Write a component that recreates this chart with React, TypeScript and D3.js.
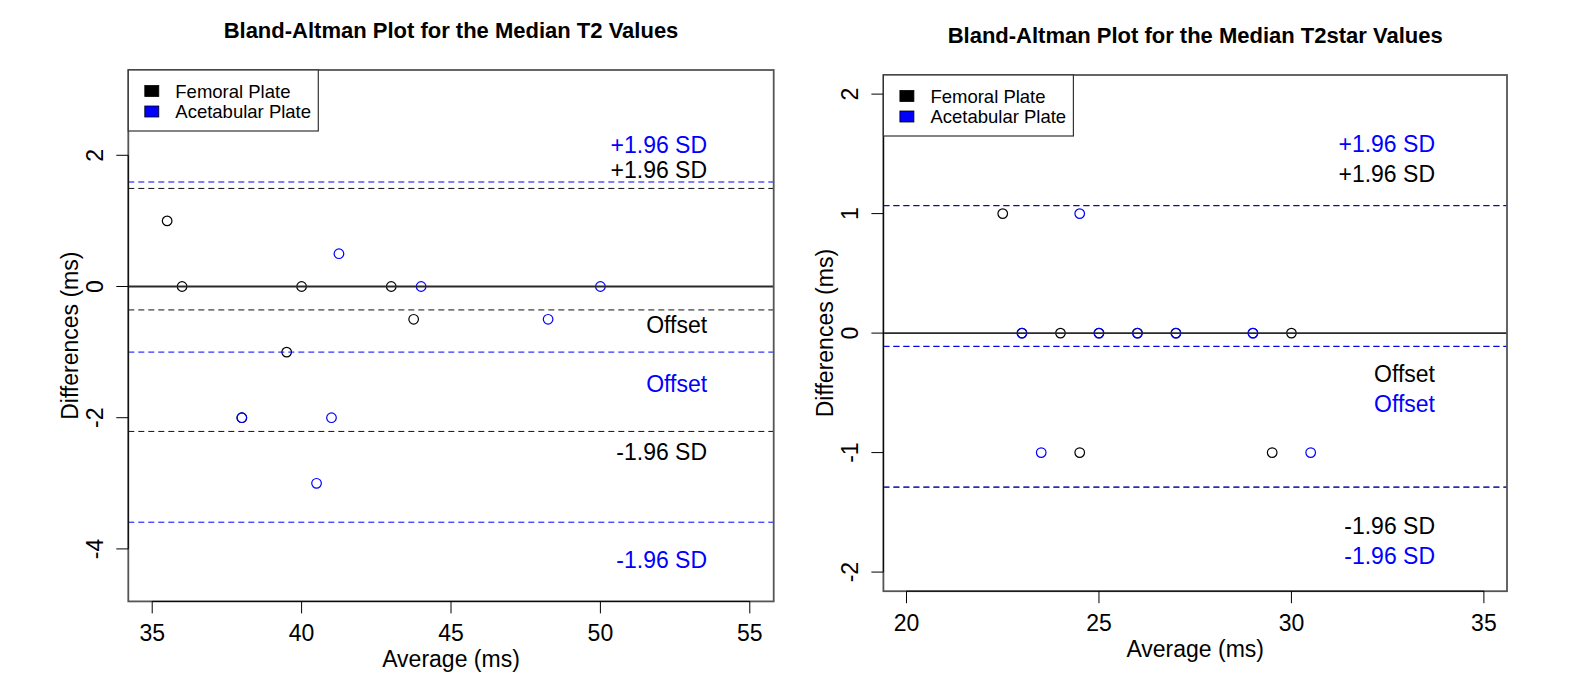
import React from "react";
import * as d3 from "d3";

// ---------- data ----------
const legendLabels = ["Femoral Plate", "Acetabular Plate"];
const seriesColors = ["#000000", "#0000FF"];

// Median T2 (left panel)
const t2FemoralAvg = [35.5, 36, 40, 43, 43.75, 39.5, 38];
const t2FemoralDiff = [1, 0, 0, 0, -0.5, -1, -2];
const t2AcetAvg = [41.25, 44, 50, 48.25, 38, 41, 40.5];
const t2AcetDiff = [0.5, 0, 0, -0.5, -2, -2, -3];
const t2XLim = [35, 55];
const t2YLim = [-4.5, 3];
const t2XTicks = [35, 40, 45, 50, 55];
const t2YTicks = [-4, -2, 0, 2];
const t2LabelX = 53.57;
// label anchors (data units): blue upper, black upper, black offset, blue offset, black lower, blue lower
const t2LabelY = [2.16, 1.78, -0.58, -1.48, -2.53, -4.17];

// Median T2star (right panel)
const t2sFemoralAvg = [22.5, 24, 30, 24.5, 29.5, 23, 25, 26, 27];
const t2sFemoralDiff = [1, 0, 0, -1, -1, 0, 0, 0, 0];
const t2sAcetAvg = [24.5, 23, 25, 26, 27, 29, 29, 23.5, 30.5];
const t2sAcetDiff = [1, 0, 0, 0, 0, 0, 0, -1, -1];
const t2sXLim = [20, 35];
const t2sYLim = [-2, 2];
const t2sXTicks = [20, 25, 30, 35];
const t2sYTicks = [-2, -1, 0, 1, 2];
const t2sLabelX = 33.73;
const t2sLabelY = [1.585, 1.334, -0.344, -0.594, -1.615, -1.866];

const titles = [
  "Bland-Altman Plot for the Median T2 Values",
  "Bland-Altman Plot for the Median T2star Values",
];
const xLabel = "Average (ms)";
const yLabel = "Differences (ms)";

// ---------- style ----------
const W = 1591;
const H = 687;
const FONT = "'Liberation Sans', Arial, Helvetica, sans-serif";
const AX_FS = 23;
const LEG_FS = 18.5;
const TITLE_FS = 22;

type Box = { x0: number; x1: number; y0: number; y1: number };

function ext(lim: number[]) {
  const r = lim[1] - lim[0];
  return [lim[0] - 0.04 * r, lim[1] + 0.04 * r];
}

function Panel(props: {
  box: Box;
  title: string;
  titleDy: number;
  xLim: number[];
  yLim: number[];
  xTicks: number[];
  yTicks: number[];
  avgs: number[][];
  diffs: number[][];
  labelX: number;
  labelY: number[];
}) {
  const { box, title, titleDy, xLim, yLim, xTicks, yTicks, avgs, diffs, labelX, labelY } = props;
  const x = d3.scaleLinear().domain(ext(xLim)).range([box.x0, box.x1]);
  const y = d3.scaleLinear().domain(ext(yLim)).range([box.y1, box.y0]);
  const stats = diffs.map((d) => {
    const m = d3.mean(d) as number;
    const s = d3.deviation(d) as number;
    return { m, up: m + 1.96 * s, lo: m - 1.96 * s };
  });
  const cx = (box.x0 + box.x1) / 2;
  const cy = (box.y0 + box.y1) / 2;
  const tick = 12;
  const lineStyles = [
    { stroke: "#111111", width: 1 },
    { stroke: "#0000FF", width: 1 },
  ];
  const labelDefs = [
    { text: "+1.96 SD", s: 1 },
    { text: "+1.96 SD", s: 0 },
    { text: "Offset", s: 0 },
    { text: "Offset", s: 1 },
    { text: "-1.96 SD", s: 0 },
    { text: "-1.96 SD", s: 1 },
  ];
  const legW = 190;
  const legH = 61;
  return (
    <g fontFamily={FONT}>
      {/* title */}
      <text x={cx} y={box.y0 - titleDy} fontSize={TITLE_FS} fontWeight="bold" textAnchor="middle" dominantBaseline="central">
        {title}
      </text>
      {/* points */}
      {avgs.map((arr, si) =>
        arr.map((a, i) => (
          <circle key={`p${si}-${i}`} cx={x(a)} cy={y(diffs[si][i])} r={4.8} fill="none" stroke={seriesColors[si]} strokeWidth={1.2} />
        ))
      )}
      {/* zero line */}
      <line x1={box.x0} x2={box.x1} y1={y(0)} y2={y(0)} stroke="#2a2a2a" strokeWidth={1.9} />
      {/* stat lines */}
      {stats.map((st, si) =>
        [st.up, st.m, st.lo].map((v, k) => (
          <line key={`l${si}-${k}`} x1={box.x0} x2={box.x1} y1={y(v)} y2={y(v)} stroke={lineStyles[si].stroke} strokeWidth={lineStyles[si].width} strokeDasharray="6,4" />
        ))
      )}
      {/* annotations */}
      {labelDefs.map((l, i) => (
        <text key={`a${i}`} x={x(labelX)} y={y(labelY[i])} fontSize={AX_FS} textAnchor="end" dominantBaseline="central" fill={seriesColors[l.s]}>
          {l.text}
        </text>
      ))}
      {/* box */}
      <rect x={box.x0} y={box.y0} width={box.x1 - box.x0} height={box.y1 - box.y0} fill="none" stroke="#555" strokeWidth={1.8} />
      {/* x axis */}
      <line x1={x(xTicks[0])} x2={x(xTicks[xTicks.length - 1])} y1={box.y1} y2={box.y1} stroke="#000" strokeWidth={1} />
      {xTicks.map((t) => (
        <g key={`xt${t}`}>
          <line x1={x(t)} x2={x(t)} y1={box.y1} y2={box.y1 + tick} stroke="#000" strokeWidth={1} />
          <text x={x(t)} y={box.y1 + 32} fontSize={AX_FS} textAnchor="middle" dominantBaseline="central">
            {t}
          </text>
        </g>
      ))}
      <text x={cx} y={box.y1 + 58} fontSize={AX_FS} textAnchor="middle" dominantBaseline="central">
        {xLabel}
      </text>
      {/* y axis */}
      <line x1={box.x0} x2={box.x0} y1={y(yTicks[0])} y2={y(yTicks[yTicks.length - 1])} stroke="#000" strokeWidth={1} />
      {yTicks.map((t) => (
        <g key={`yt${t}`}>
          <line x1={box.x0 - tick} x2={box.x0} y1={y(t)} y2={y(t)} stroke="#000" strokeWidth={1} />
          <text
            transform={`translate(${box.x0 - 33},${y(t)}) rotate(-90)`}
            fontSize={AX_FS}
            textAnchor="middle"
            dominantBaseline="central"
          >
            {t}
          </text>
        </g>
      ))}
      <text transform={`translate(${box.x0 - 58},${cy}) rotate(-90)`} fontSize={AX_FS} textAnchor="middle" dominantBaseline="central">
        {yLabel}
      </text>
      {/* legend */}
      <rect x={box.x0} y={box.y0} width={legW} height={legH} fill="#fff" stroke="#333" strokeWidth={1.2} />
      {legendLabels.map((lab, i) => (
        <g key={`lg${i}`}>
          <rect x={box.x0 + 16.5} y={box.y0 + 21 + i * 20.5 - 5.5} width={14} height={11} fill={seriesColors[i]} stroke="#000" strokeWidth={0.8} />
          <text x={box.x0 + 47} y={box.y0 + 21 + i * 20.5} fontSize={LEG_FS} dominantBaseline="central">
            {lab}
          </text>
        </g>
      ))}
    </g>
  );
}

export default function App() {
  return (
    <svg width={W} height={H} style={{ position: "absolute", left: 0, top: 0, background: "#fff" }}>
      <rect x={0} y={0} width={W} height={H} fill="#fff" />
      <Panel
        box={{ x0: 128.3, x1: 773.7, y0: 70, y1: 601.4 }}
        title={titles[0]}
        titleDy={40}
        xLim={t2XLim}
        yLim={t2YLim}
        xTicks={t2XTicks}
        yTicks={t2YTicks}
        avgs={[t2FemoralAvg, t2AcetAvg]}
        diffs={[t2FemoralDiff, t2AcetDiff]}
        labelX={t2LabelX}
        labelY={t2LabelY}
      />
      <Panel
        box={{ x0: 883.4, x1: 1507, y0: 75, y1: 591.2 }}
        title={titles[1]}
        titleDy={40}
        xLim={t2sXLim}
        yLim={t2sYLim}
        xTicks={t2sXTicks}
        yTicks={t2sYTicks}
        avgs={[t2sFemoralAvg, t2sAcetAvg]}
        diffs={[t2sFemoralDiff, t2sAcetDiff]}
        labelX={t2sLabelX}
        labelY={t2sLabelY}
      />
    </svg>
  );
}
